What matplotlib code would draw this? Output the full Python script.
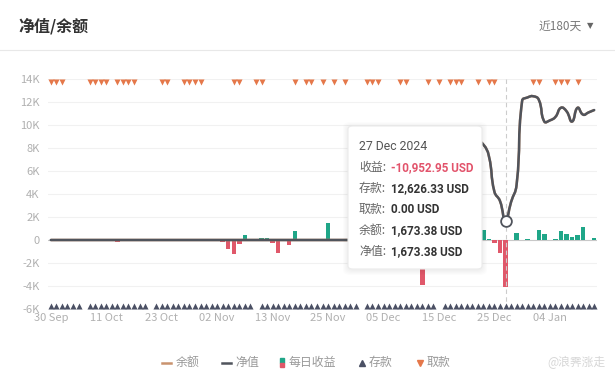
import numpy as np
import matplotlib.pyplot as plt
from matplotlib.patches import Rectangle, FancyBboxPatch, PathPatch
from matplotlib.lines import Line2D
from matplotlib.path import Path

plt.rcParams['font.family'] = ['Noto Sans CJK SC', 'DejaVu Sans']

# x axis: one category per trading day, labels every 10 categories
tick_labels = ['30 Sep', '11 Oct', '23 Oct', '02 Nov', '13 Nov',
               '25 Nov', '05 Dec', '15 Dec', '25 Dec', '04 Jan']
n_days = 99

# net value (净值) / balance (余额) per day
net_value = [
    0, 0, 0, 0, 0, 0, 0, 0, 0, 0, 0, 0, 0, 0, 0,
    0, 0, 0, 0, 0, 0, 0, 0, 0, 0, 0, 0, 0, 0, 0,
    0, 0, 0, 0, 0, 0, 0, 0, 0, 0, 0, 0, 0, 0, 0,
    0, 0, 0, 0, 0, 0, 0, 0, 0, 0, 0, 0, 0, 0, 0,
    0, 0, 0, 0, 0, 0, 0, 0, 0, 0, 0, 0, 0, 0, 0,
    3000, 7000, 8500, 8300, 7300, 4200, 3400, 1673, 3300, 4800,
    12100, 12400, 12500, 12200, 10300, 10400, 10700, 11500, 11200, 10300,
    11500, 10900, 11100, 11300,
]
balance = net_value

# daily profit bars (每日收益): index -> value
pnl_idx = [12, 31, 32, 33, 34, 35, 38, 39, 40, 41, 43, 44, 46, 47, 50,
           67, 78, 79, 80, 81, 82, 84, 86, 88, 89, 91, 92, 93, 94, 95, 96, 98]
pnl_val = [-150, -150, -800, -1200, -350, 400, 200, 200, -250, -1100, -450, 750, 100, 50, 1500,
           -3900, 900, 80, -300, -1100, -4100, 650, 100, 850, 500, 100, 800, 500, 250, 400, 1150, 200]

# deposit days (存款) and withdrawal days (取款)
no_deposit = [6, 18, 37, 56, 70]
withdraw_idx = [0, 1, 2, 7, 8, 9, 10, 12, 13, 14, 15, 20, 21, 24, 25, 26, 27, 33, 34, 37, 38,
                44, 46, 47, 49, 51, 53, 57, 58, 59, 63, 64, 68, 70, 72, 73, 74, 77, 79, 80,
                87, 88, 91, 92, 93, 95]

GREEN = '#1fa688'
RED = '#e0586a'
DARK = '#50545c'
ORANGE = '#e5784a'
TAN = '#c9936e'
NAVY = '#4b5064'

PX_X = 549 / n_days   # pixels per category
PX_Y = 230 / 20000    # pixels per unit


def smooth_path(xs, ys, smooth=0.5):
    # bezier curve through the points, control points weighted by segment length in pixels
    pts = np.column_stack([np.asarray(xs) * PX_X, np.asarray(ys) * PX_Y]).astype(float)
    n = len(pts)
    cp_in = pts.copy()
    cp_out = pts.copy()
    for i in range(n):
        prev = pts[max(i - 1, 0)]
        nxt = pts[min(i + 1, n - 1)]
        v = nxt - prev
        l0 = np.hypot(*(pts[i] - prev))
        l1 = np.hypot(*(nxt - pts[i]))
        r = l1 / (l0 + l1) if l0 + l1 > 0 else 0.5
        cp_out[i] = pts[i] + v * smooth * r
        cp_in[i] = pts[i] - v * smooth * (1 - r)
    verts = [pts[0]]
    codes = [Path.MOVETO]
    for i in range(n - 1):
        verts += [cp_out[i], cp_in[i + 1], pts[i + 1]]
        codes += [Path.CURVE4] * 3
    verts = np.array(verts) / np.array([PX_X, PX_Y])
    return Path(verts, codes)


fig = plt.figure(figsize=(6.15, 3.82), dpi=100)
ax = fig.add_axes([48 / 615, 1 - 309 / 382, 549 / 615, 230 / 382])

x = np.arange(n_days)
ax.set_xlim(-0.5, n_days - 0.5)
ax.set_ylim(-6000, 14000)

yt = np.arange(-6000, 14001, 2000)
ax.set_yticks(yt)
ax.set_yticklabels(['%dK' % (v // 1000) if v != 0 else '0' for v in yt])
for v in yt:
    ax.axhline(v, color='#f1f1f1', lw=0.8, zorder=0)
ax.axhline(0, color='#c8c8c8', lw=0.8, zorder=1)

ax.set_xticks(np.arange(0, n_days, 10))
ax.set_xticklabels(tick_labels)
ax.tick_params(length=0, colors='#b0b0b0', labelsize=8)
ax.tick_params(axis='x', pad=3)
ax.tick_params(axis='y', pad=6)
for s in ax.spines.values():
    s.set_visible(False)

colors = [GREEN if v >= 0 else RED for v in pnl_val]
ax.bar(pnl_idx, pnl_val, width=0.8, color=colors, zorder=2)

ax.add_patch(PathPatch(smooth_path(x, balance), facecolor='none', edgecolor=TAN, lw=1.8, zorder=3))
ax.add_patch(PathPatch(smooth_path(x, net_value), facecolor='none', edgecolor=DARK, lw=1.8,
                       zorder=4, capstyle='round', joinstyle='round'))

dep = [i for i in range(n_days) if i not in no_deposit]
ax.scatter(dep, [-5760] * len(dep), marker='^', s=19, color=NAVY, lw=0, zorder=5, clip_on=False)
ax.scatter(withdraw_idx, [13740] * len(withdraw_idx), marker='v', s=19, color=ORANGE, lw=0,
           zorder=5, clip_on=False)

# hover line + marker at 27 Dec
sel = 82
ax.axvline(sel, color='#cccccc', lw=0.8, ls=(0, (4, 3)), zorder=3)
ax.scatter([sel], [net_value[sel]], s=60, facecolor='white', edgecolor=DARK, lw=1.3, zorder=6)

# tooltip with a soft shadow
for off in [5, 4, 3, 2, 1]:
    sh = FancyBboxPatch(((348 - off) / 615, 1 - (270 + off) / 382), (134 + 2 * off) / 615,
                        (143 + 2 * off) / 382, boxstyle='round,pad=0,rounding_size=0.012',
                        transform=fig.transFigure, facecolor='black', edgecolor='none',
                        alpha=0.012, zorder=9)
    fig.patches.append(sh)
tip = FancyBboxPatch((348 / 615, 1 - 269 / 382), 134 / 615, 143 / 382,
                     boxstyle='round,pad=0,rounding_size=0.008', transform=fig.transFigure,
                     facecolor='white', edgecolor='#ebebeb', lw=0.8, zorder=10)
fig.patches.append(tip)
tx = 359 / 615
num_font = ['Roboto', 'Noto Sans CJK SC']
fig.text(tx, 1 - 147 / 382, '27 Dec 2024', fontsize=8.8, color='#555555', va='center',
         family=num_font, zorder=11)
rows = [('收益:', '-10,952.95 USD', '#e2536b'),
        ('存款:', '12,626.33 USD', '#333333'),
        ('取款:', '0.00 USD', '#333333'),
        ('余额:', '1,673.38 USD', '#333333'),
        ('净值:', '1,673.38 USD', '#333333')]
for k, (lab, val, c) in enumerate(rows):
    yy = 1 - (168 + k * 20.8) / 382
    fig.text(tx, yy, lab, fontsize=8.6, color='#666666', va='center', zorder=11)
    fig.text(391 / 615, yy, val, fontsize=8.4, color=c, weight='bold', va='center',
             family=num_font, zorder=11)

# header
fig.text(18 / 615, 1 - 26 / 382, '净值/余额', fontsize=11.5, weight='bold', color='#333333', va='center')
fig.text(539 / 615, 1 - 26 / 382, '近180天', fontsize=8.5, color='#777777', va='center')
fig.text(587 / 615, 1 - 26 / 382, '▼', fontsize=6, color='#666666', va='center',
         family='DejaVu Sans')
fig.add_artist(Line2D([0, 1], [1 - 49.5 / 382] * 2, color='#e8e8e8', lw=0.8))

# legend
ly = 1 - 362.5 / 382
fs = 8.6
fig.add_artist(Line2D([162 / 615, 171 / 615], [ly, ly], color=TAN, lw=1.8))
fig.text(176 / 615, ly, '余额', fontsize=fs, color='#999999', va='center')
fig.add_artist(Line2D([222 / 615, 231 / 615], [ly, ly], color=DARK, lw=1.8))
fig.text(235 / 615, ly, '净值', fontsize=fs, color='#999999', va='center')
fig.add_artist(Rectangle((279.5 / 615, ly), 4.5 / 615, 4.5 / 382, color=GREEN))
fig.add_artist(Rectangle((279.5 / 615, ly - 4.5 / 382), 4.5 / 615, 4.5 / 382, color=RED))
fig.text(289 / 615, ly, '每日收益', fontsize=fs, color='#999999', va='center')
fig.add_artist(Line2D([362 / 615], [ly], marker='^', ms=5, color=NAVY, lw=0))
fig.text(369 / 615, ly, '存款', fontsize=fs, color='#999999', va='center')
fig.add_artist(Line2D([419.5 / 615], [ly], marker='v', ms=5, color=ORANGE, lw=0))
fig.text(427 / 615, ly, '取款', fontsize=fs, color='#999999', va='center')

fig.text(606 / 615, ly, '@浪霁涨走', fontsize=8.5, color='#d6d6d6', va='center', ha='right')

fig.savefig('out.png', dpi=100)
